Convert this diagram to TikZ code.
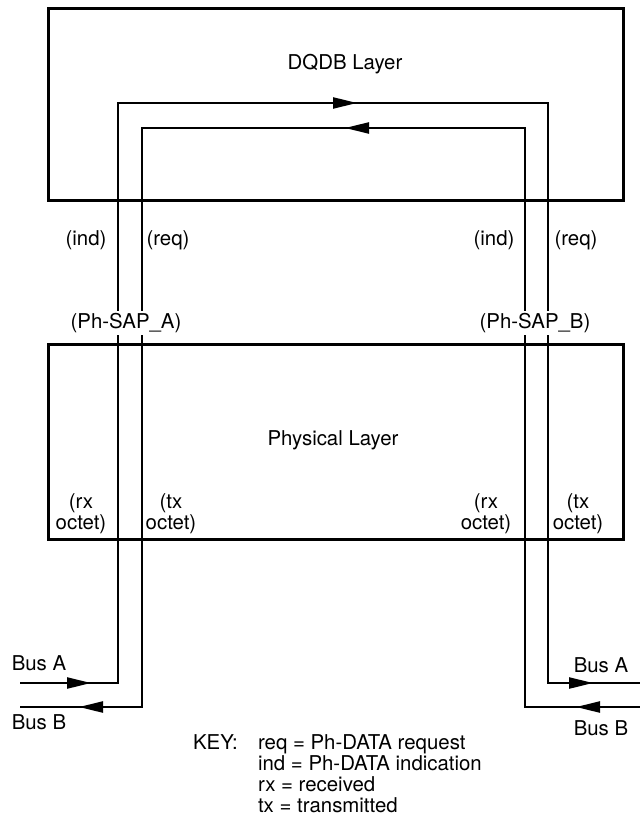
\documentclass[tikz,border=0pt]{standalone}
\usepackage{fontspec}
\setmainfont{TeX Gyre Heros}
\usetikzlibrary{arrows.meta}

\tikzset{
  layerbox/.style={line width=1.5pt},
  sig/.style={line width=1.2pt},
  sigtip/.style={line width=1.2pt,-{Triangle[length=12pt,width=5.5pt]}},
  lbl/.style={inner sep=1pt,align=center},
  sap/.style={fill=white,inner sep=1pt},
}

\begin{document}
\begin{tikzpicture}[x=0.5pt,y=-0.5pt,font=\fontsize{10.2}{10.5}\selectfont]

\useasboundingbox (0,0) rectangle (640,817);

% the two layers
\draw[layerbox] (48,9) rectangle (623,201);
\draw[layerbox] (48,345) rectangle (623,539);
\node (dqdb) at (345,64) {DQDB Layer};
\node (phy) at (333,440) {Physical Layer};

% bus A path
\coordinate (busAin) at (20,683);
\coordinate (aBL) at (118,683);
\coordinate (aTL) at (118,103);
\coordinate (aTR) at (548,103);
\coordinate (aBR) at (548,683);
\coordinate (busAout) at (640,683);
\draw[sig] (busAin) -- (aBL) -- (aTL) -- (aTR) -- (aBR) -- (busAout);

% bus B path
\coordinate (busBin) at (640,707);
\coordinate (bBR) at (525,707);
\coordinate (bTR) at (525,128);
\coordinate (bTL) at (142,128);
\coordinate (bBL) at (142,707);
\coordinate (busBout) at (20,707);
\draw[sig] (busBin) -- (bBR) -- (bTR) -- (bTL) -- (bBL) -- (busBout);

% arrow heads
\coordinate (tipA1) at (91,683);   \coordinate (tailA1) at (70,683);
\coordinate (tipA2) at (357,103);  \coordinate (tailA2) at (336,103);
\coordinate (tipA3) at (593,683);  \coordinate (tailA3) at (572,683);
\coordinate (tipB1) at (576,707);  \coordinate (tailB1) at (597,707);
\coordinate (tipB2) at (345,128);  \coordinate (tailB2) at (366,128);
\coordinate (tipB3) at (79,707);   \coordinate (tailB3) at (100,707);
\draw[sigtip] (tailA1) -- (tipA1);
\draw[sigtip] (tailA2) -- (tipA2);
\draw[sigtip] (tailA3) -- (tipA3);
\draw[sigtip] (tailB1) -- (tipB1);
\draw[sigtip] (tailB2) -- (tipB2);
\draw[sigtip] (tailB3) -- (tipB3);

% service access points
\node[lbl] (indA) at (86,240) {(ind)};
\node[lbl] (reqA) at (168,240) {(req)};
\node[lbl] (indB) at (494,240) {(ind)};
\node[lbl] (reqB) at (576,240) {(req)};
\node[sap] (sapA) at (126,323) {(Ph-SAP\_A)};
\node[sap] (sapB) at (535,323) {(Ph-SAP\_B)};

\node[lbl] (rxA) at (81,514) {(rx\\octet)};
\node[lbl] (txA) at (171,514) {(tx\\octet)};
\node[lbl] (rxB) at (486,514) {(rx\\octet)};
\node[lbl] (txB) at (578,514) {(tx\\octet)};

% buses
\node (busAl) at (39,663) {Bus A};
\node (busBl) at (39,722) {Bus B};
\node (busAr) at (601,665) {Bus A};
\node (busBr) at (601,728) {Bus B};

% key
\node[anchor=base west] (key) at (186,749) {KEY:};
\node[anchor=base west] (key1) at (251,749) {req = Ph-DATA request};
\node[anchor=base west] (key2) at (251,770) {ind = Ph-DATA indication};
\node[anchor=base west] (key3) at (251,791) {rx = received};
\node[anchor=base west] (key4) at (251,812) {tx = transmitted};

\end{tikzpicture}
\end{document}
